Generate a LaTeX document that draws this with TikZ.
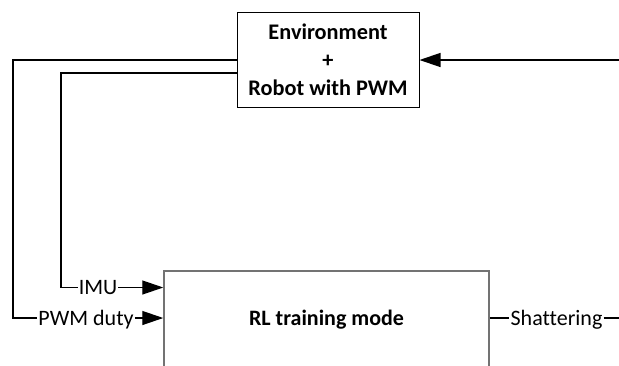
\documentclass[tikz,border=0pt]{standalone}
\usepackage{fontspec}
\setmainfont{Carlito}[Ligatures=CommonOff]
\usetikzlibrary{arrows.meta,calc}
\tikzset{
  conn/.style={line width=1.3pt, black},
  arr/.style={conn, -{Triangle[length=21pt,width=14pt]}},
  envbox/.style={draw=black, line width=1pt, minimum width=182pt, minimum height=95pt, inner sep=0pt, align=center,
     font=\fontsize{22.3}{28}\selectfont\bfseries},
  rlbox/.style={draw=black!55, line width=1.5pt, minimum width=325pt, minimum height=190pt, inner sep=0pt},
  lbl/.style={inner sep=1pt, text height=14pt, text depth=0pt, font=\fontsize{22}{28}\selectfont},
  blbl/.style={lbl, font=\fontsize{22}{28}\selectfont\bfseries},
}
\begin{document}
\begin{tikzpicture}[x=1pt,y=-1pt]
\useasboundingbox (0,0) rectangle (619,365);
\clip (0,0) rectangle (619,365);
\node[envbox] (env) at (328,59.5) {Environment\\+\\Robot with PWM};
\node[rlbox] (rl) at (326.5,366) {};
\node[blbl] (rltext) at (326.5,318) {RL training mode};
\node[lbl] (imu) at (98,287.5) {IMU};
\node[lbl] (pwm) at (86,318) {PWM duty};
\node[lbl] (sh) at (556.5,318) {Shattering};
\coordinate (c1) at (13,318);
\coordinate (c2) at (61,287.5);
\coordinate (inp) at (619,60);
\coordinate (shend) at (619,318);
% outer loop to PWM duty
\draw[conn] ($(env.west)+(0,0.5)$) -| (c1) -- (pwm.west);
\draw[arr] (pwm.east) -- (rl.west |- pwm.east);
% inner loop to IMU
\draw[conn] ($(env.west)+(0,13.5)$) -| (c2) -- (imu.west);
\draw[arr] (imu.east) -- (rl.west |- imu.east);
% input arrow
\draw[arr] (inp) -- (env.east |- inp);
% shattering
\draw[conn] (rl.east |- sh.west) -- (sh.west);
\draw[conn] (sh.east) -- (shend);
\end{tikzpicture}
\end{document}
